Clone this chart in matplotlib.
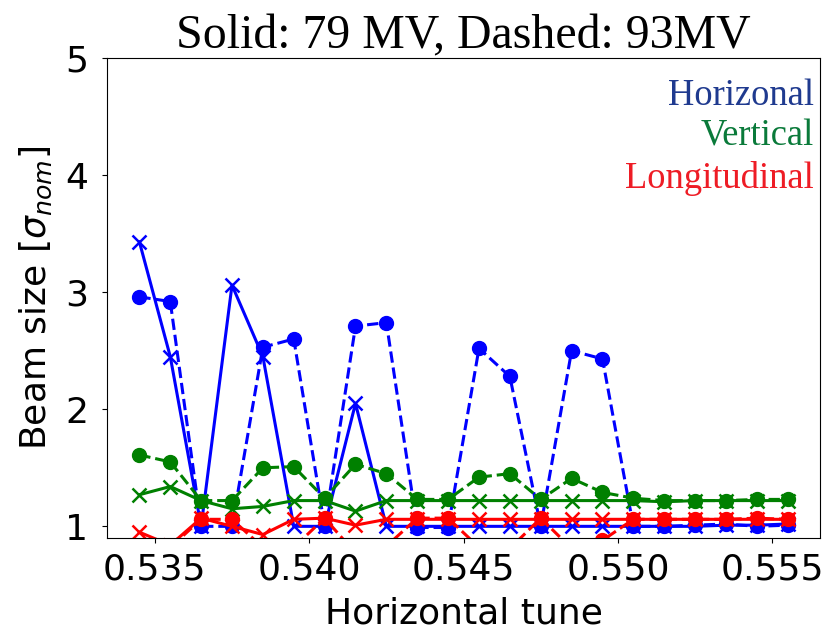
import matplotlib.pyplot as plt
import numpy as np

# horizontal tune scan, 22 points
tunes = np.round(0.5345 + 0.001 * np.arange(22), 4)

# Solid: 79 MV
horiz_79 = [3.43, 2.45, 1.00, 3.06, 2.45, 1.00, 1.00, 2.05, 1.00, 1.00, 1.00,
            1.00, 1.00, 1.00, 1.00, 1.00, 1.00, 1.00, 1.00, 1.01, 1.01, 1.02]
vert_79 = [1.27, 1.34, 1.22, 1.15, 1.17, 1.22, 1.22, 1.13, 1.22, 1.22, 1.22,
           1.22, 1.22, 1.22, 1.22, 1.22, 1.22, 1.21, 1.22, 1.22, 1.22, 1.22]
long_79 = [0.95, 0.84, 1.07, 1.00, 0.93, 1.06, 1.07, 1.01, 1.06, 1.06, 1.06,
           1.06, 1.06, 1.06, 1.06, 1.06, 1.06, 1.06, 1.06, 1.06, 1.06, 1.06]

# Dashed: 93 MV
horiz_93 = [2.96, 2.92, 1.00, 1.00, 2.53, 2.60, 1.00, 2.71, 2.74, 0.99, 0.99,
            2.52, 2.28, 1.00, 2.50, 2.43, 1.00, 1.00, 1.01, 1.02, 1.00, 1.01]
vert_93 = [1.61, 1.55, 1.22, 1.22, 1.50, 1.51, 1.24, 1.53, 1.45, 1.23, 1.23,
           1.42, 1.45, 1.23, 1.41, 1.29, 1.24, 1.22, 1.22, 1.22, 1.23, 1.23]
long_93 = [0.80, 0.82, 1.06, 1.06, 0.82, 0.82, 1.07, 0.77, 0.83, 1.07, 1.07,
           0.82, 0.81, 1.07, 0.81, 0.88, 1.06, 1.06, 1.06, 1.06, 1.07, 1.06]

fig = plt.figure(figsize=(8.39, 6.33), dpi=100)
ax = fig.add_axes([0.1275, 0.150, 0.85, 0.7584])

lw = 2.2
for col, s79, s93 in [("blue", horiz_79, horiz_93),
                      ("green", vert_79, vert_93),
                      ("red", long_79, long_93)]:
    ax.plot(tunes, s79, color=col, ls="-", marker="x", ms=10, mew=1.8, lw=lw)
    ax.plot(tunes, s93, color=col, ls="--", marker="o", ms=10, lw=lw)

ax.set_ylim(0.9, 5)
ax.set_yticks([1, 2, 3, 4, 5])
ax.set_xticks([0.535, 0.540, 0.545, 0.550, 0.555])
ax.set_xticklabels(["0.535", "0.540", "0.545", "0.550", "0.555"])
ax.tick_params(labelsize=26)
ax.tick_params(axis="x", pad=7)
ax.tick_params(axis="y", pad=10)
ax.set_xlabel("Horizontal tune", fontsize=26, labelpad=7)
ax.set_ylabel(r"Beam size [$\sigma_{nom}$]", fontsize=26, labelpad=8)
ax.set_title("Solid: 79 MV, Dashed: 93MV", fontsize=34.5, family="Liberation Serif", pad=4)

serif = "Liberation Serif"
ax.text(0.991, 0.903, "Horizonal", color="#1f3a8f", fontsize=26.3, family=serif,
        ha="right", va="baseline", transform=ax.transAxes)
ax.text(0.991, 0.817, "Vertical", color="#0a7a3a", fontsize=26.3, family=serif,
        ha="right", va="baseline", transform=ax.transAxes)
ax.text(0.991, 0.729, "Longitudinal", color="#ee1c25", fontsize=26.3, family=serif,
        ha="right", va="baseline", transform=ax.transAxes)

fig.savefig("out.png", dpi=100)
